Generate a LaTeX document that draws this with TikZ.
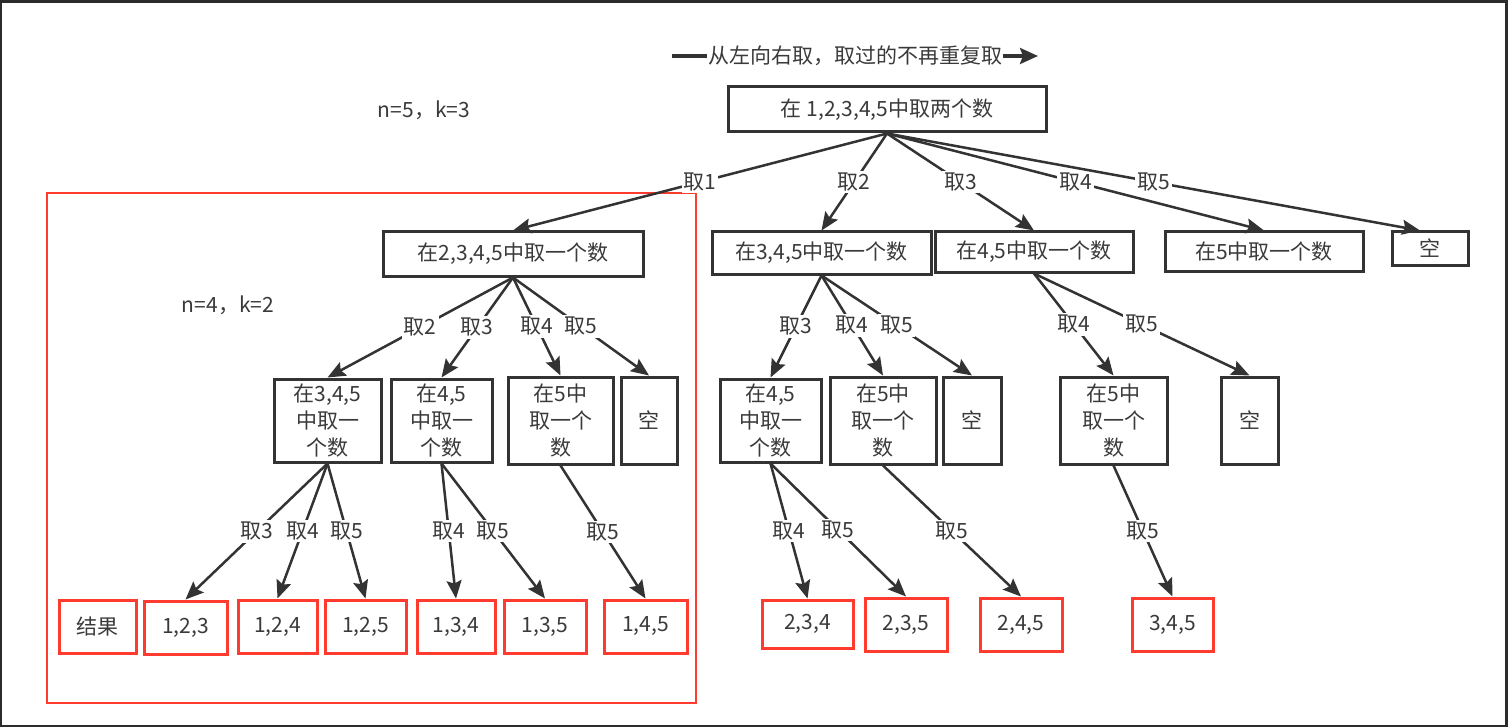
\documentclass[tikz,border=0pt]{standalone}
\usepackage{fontspec}
\setmainfont{Noto Sans CJK SC}
\usetikzlibrary{arrows.meta}
\definecolor{ink}{HTML}{333333}
\definecolor{txt}{HTML}{3A3A3A}
\definecolor{framec}{HTML}{2B2B2B}
\definecolor{redb}{HTML}{FF3B30}
\newcommand{\myfs}{\fontsize{10.5pt}{13.5pt}\selectfont}
\begin{document}
\begin{tikzpicture}[x=0.5pt,y=-0.5pt,
  box/.style={draw=ink, line width=1.5pt, fill=white, text=txt, inner sep=0pt, align=center, font=\myfs},
  rbox/.style={draw=redb, line width=1.5pt, fill=white, text=txt, inner sep=0pt, align=center, font=\myfs, minimum height=26.5pt},
  arr/.style={draw=ink, line width=1.25pt, -{Stealth[length=9pt,width=7.5pt,inset=1.5pt]}},
  lbl/.style={fill=white, text=txt, inner sep=1pt, font=\myfs},
  plain/.style={text=txt, inner sep=0pt, font=\myfs}]
\useasboundingbox (0,0) rectangle (1508,727);
\fill[framec] (0,0) rectangle (1508,727);
\fill[white] (2,3) rectangle (1505,725);

% big red frame
\draw[redb, line width=1.2pt] (47,193) rectangle (696,703);

% texts
\node[plain] (n5) at (424,110) {n=5，k=3};
\node[plain] (n4) at (228,305) {n=4，k=2};

% root
\node[box, minimum width=159pt, minimum height=22.5pt] (R) at (887,109.5) {在 1,2,3,4,5中取两个数};

% level 1
\node[box, minimum width=130pt, minimum height=22pt] (A) at (513,254) {在2,3,4,5中取一个数};
\node[box, minimum width=109.5pt, minimum height=21pt] (B) at (821.5,253) {在3,4,5中取一个数};
\node[box, minimum width=99pt, minimum height=20pt] (C) at (1034,252) {在4,5中取一个数};
\node[box, minimum width=99pt, minimum height=19.5pt] (D) at (1264,251.5) {在5中取一个数};
\node[box, minimum width=38pt, minimum height=16.5pt] (E) at (1430,248.5) {空};

% level 2
\node[box, minimum width=53.5pt, minimum height=41.5pt] (A1) at (327.5,420.5) {在3,4,5\\中取一\\个数};
\node[box, minimum width=50.5pt, minimum height=41.5pt] (A2) at (441.5,420.5) {在4,5\\中取一\\个数};
\node[box, minimum width=52.5pt, minimum height=43.5pt] (A3) at (560.5,420.5) {在5中\\取一个\\数};
\node[box, minimum width=28pt, minimum height=43.5pt] (A4) at (649,420.5) {空};
\node[box, minimum width=50.5pt, minimum height=41.5pt] (B1) at (770.5,420.5) {在4,5\\中取一\\个数};
\node[box, minimum width=53pt, minimum height=43.5pt] (B2) at (883,420.5) {在5中\\取一个\\数};
\node[box, minimum width=29pt, minimum height=43.5pt] (B3) at (972,420.5) {空};
\node[box, minimum width=53.5pt, minimum height=43.5pt] (C1) at (1113.5,420.5) {在5中\\取一个\\数};
\node[box, minimum width=28.5pt, minimum height=43.5pt] (C2) at (1249.5,420.5) {空};

% level 3
\node[rbox, minimum width=38.5pt] (Q0) at (97.5,626.5) {结果};
\node[rbox, minimum width=41.5pt] (Q1) at (185.5,627.5) {1,2,3};
\node[rbox, minimum width=39.5pt] (Q2) at (277.5,626.5) {1,2,4};
\node[rbox, minimum width=40.5pt] (Q3) at (365.5,626.5) {1,2,5};
\node[rbox, minimum width=39pt] (Q4) at (456,626.5) {1,3,4};
\node[rbox, minimum width=41pt] (Q5) at (545,626.5) {1,3,5};
\node[rbox, minimum width=41.5pt] (Q6) at (645.5,626.5) {1,4,5};
\node[rbox, minimum width=45.5pt, minimum height=24pt] (Q7) at (807.5,624) {2,3,4};
\node[rbox, minimum width=41pt] (Q8) at (906,624.5) {2,3,5};
\node[rbox, minimum width=41pt] (Q9) at (1021,624.5) {2,4,5};
\node[rbox, minimum width=40.5pt] (Q10) at (1172.5,624.5) {3,4,5};

% top arrow
\coordinate (t1) at (672,56);
\coordinate (t2) at (1038,56);
\draw[draw=ink, line width=1.6pt, -{Stealth[length=9pt,width=8pt,inset=1.5pt]}] (t1) -- node[lbl, inner sep=0.5pt] {从左向右取，取过的不再重复取} (t2);

% root edges
\draw[arr] (R.south) -- node[lbl] {取1} (A.north);
\draw[arr] (R.south) -- node[lbl] {取2} (B.north);
\draw[arr] (R.south) -- node[lbl] {取3} (C.north);
\draw[arr] (R.south) -- node[lbl] {取4} (D.north);
\draw[arr] (R.south) -- node[lbl] {取5} ([xshift=-5pt]E.north);

% level1 -> level2
\draw[arr] (A.south) -- node[lbl] {取2} (A1.north);
\draw[arr] (A.south) -- node[lbl] {取3} (A2.north);
\draw[arr] (A.south) -- node[lbl] {取4} (A3.north);
\draw[arr] (A.south) -- node[lbl] {取5} (A4.north);
\draw[arr] (B.south) -- node[lbl] {取3} (B1.north);
\draw[arr] (B.south) -- node[lbl] {取4} (B2.north);
\draw[arr] (B.south) -- node[lbl] {取5} (B3.north);
\draw[arr] (C.south) -- node[lbl] {取4} (C1.north);
\draw[arr] (C.south) -- node[lbl] {取5} (C2.north);

% level2 -> level3
\draw[arr] (A1.south) -- node[lbl] {取3} (Q1.north);
\draw[arr] (A1.south) -- node[lbl] {取4} (Q2.north);
\draw[arr] (A1.south) -- node[lbl] {取5} (Q3.north);
\draw[arr] (A2.south) -- node[lbl] {取4} (Q4.north);
\draw[arr] (A2.south) -- node[lbl] {取5} (Q5.north);
\draw[arr] (A3.south) -- node[lbl] {取5} (Q6.north);
\draw[arr] (B1.south) -- node[lbl] {取4} (Q7.north);
\draw[arr] (B1.south) -- node[lbl] {取5} (Q8.north);
\draw[arr] (B2.south) -- node[lbl] {取5} (Q9.north);
\draw[arr] (C1.south) -- node[lbl] {取5} (Q10.north);
\end{tikzpicture}
\end{document}
